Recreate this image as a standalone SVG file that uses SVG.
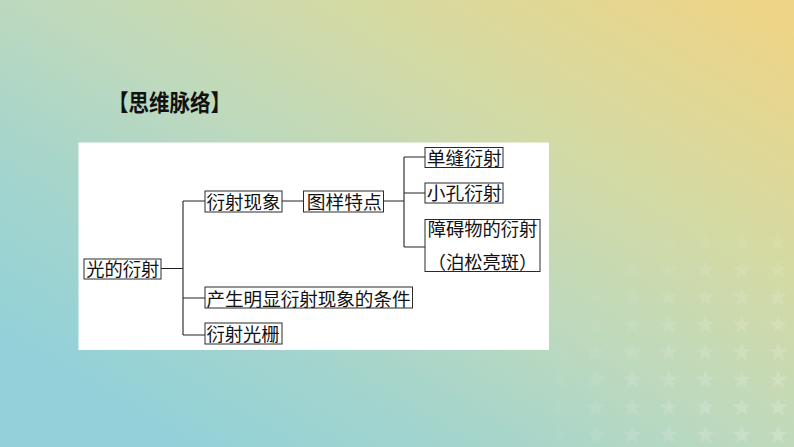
<svg xmlns="http://www.w3.org/2000/svg" width="794" height="447" viewBox="0 0 794 447">
<defs>
<linearGradient id="bg" gradientUnits="userSpaceOnUse" x1="300" y1="520" x2="650" y2="-60">
<stop offset="0" stop-color="#92d1d9"/>
<stop offset="0.25" stop-color="#a6d5cb"/>
<stop offset="0.45" stop-color="#bed9bd"/>
<stop offset="0.7" stop-color="#d5daa2"/>
<stop offset="1" stop-color="#eed486"/>
</linearGradient>
<pattern id="stars" patternUnits="userSpaceOnUse" x="614" y="256" width="36.5" height="27.5">
<polygon points="18.25,4 20.6,10.8 27.6,10.9 22,15.1 24,22 18.25,17.9 12.5,22 14.5,15.1 8.9,10.9 15.9,10.8" fill="#ffffff"/>
</pattern>
<radialGradient id="fade" gradientUnits="userSpaceOnUse" cx="794" cy="447" r="280">
<stop offset="0" stop-color="#fff" stop-opacity="0.2"/>
<stop offset="0.6" stop-color="#fff" stop-opacity="0.12"/>
<stop offset="1" stop-color="#fff" stop-opacity="0"/>
</radialGradient>
<mask id="m"><rect width="794" height="447" fill="url(#fade)"/></mask>
<style>
.box{fill:#ffffff;stroke:#2a2a2a;stroke-width:1}
.t{font-family:"Liberation Serif","Noto Sans CJK SC",serif;font-size:18px;fill:#111}
.c{stroke:#222;stroke-width:1.1;fill:none}
</style>
</defs>
<rect width="794" height="447" fill="url(#bg)"/>
<rect x="460" y="220" width="334" height="227" fill="url(#stars)" mask="url(#m)"/>
<text x="108" y="111" font-family="'Noto Sans CJK SC',sans-serif" font-weight="bold" font-size="23" textLength="123" lengthAdjust="spacingAndGlyphs" fill="#111">【思维脉络】</text>
<rect x="78.5" y="142.5" width="470.5" height="207.5" fill="#ffffff"/>
<g id="connectors">
<path class="c" d="M161,268.5H183M183,201V335M183,201H205M183,298H205M183,335H205"/>
<path class="c" d="M282,201H303.5M383.5,201H404M404,157V247M404,157H425M404,193H425M404,247H425"/>
</g>
<g id="n1"><rect class="box" x="84" y="259" width="77" height="20"/><text class="t" x="86.3" y="276" textLength="73" lengthAdjust="spacingAndGlyphs">光的衍射</text></g>
<g id="n2"><rect class="box" x="205" y="191" width="77" height="21"/><text class="t" x="206.5" y="208.5" textLength="74" lengthAdjust="spacingAndGlyphs">衍射现象</text></g>
<g id="n3"><rect class="box" x="303.5" y="191" width="80" height="21"/><text class="t" x="306.7" y="208.5" textLength="75" lengthAdjust="spacingAndGlyphs">图样特点</text></g>
<g id="n4"><rect class="box" x="425" y="147.5" width="78" height="20"/><text class="t" x="426.7" y="164.5" textLength="75" lengthAdjust="spacingAndGlyphs">单缝衍射</text></g>
<g id="n5"><rect class="box" x="425" y="183" width="78" height="20"/><text class="t" x="426.7" y="200" textLength="75" lengthAdjust="spacingAndGlyphs">小孔衍射</text></g>
<g id="n6"><rect class="box" x="425" y="219.5" width="115" height="52"/><text class="t" x="427.7" y="235.5" textLength="109.6" lengthAdjust="spacingAndGlyphs">障碍物的衍射</text><text class="t" x="427.7" y="269" textLength="109.6" lengthAdjust="spacingAndGlyphs">（泊松亮斑）</text></g>
<g id="n7"><rect class="box" x="205" y="287" width="207.5" height="21"/><text class="t" x="206.5" y="305.5" textLength="204" lengthAdjust="spacingAndGlyphs">产生明显衍射现象的条件</text></g>
<g id="n8"><rect class="box" x="205" y="323" width="77" height="21"/><text class="t" x="206.5" y="340.5" textLength="73" lengthAdjust="spacingAndGlyphs">衍射光栅</text></g>
</svg>
